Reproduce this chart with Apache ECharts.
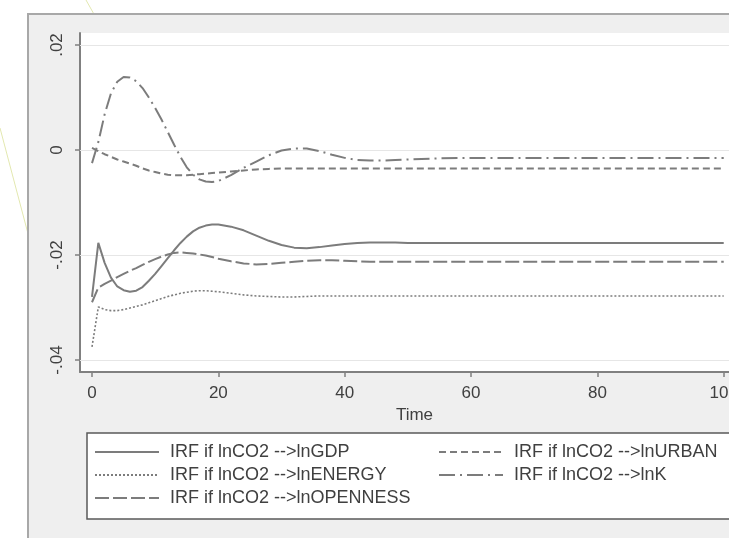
<!DOCTYPE html>
<html>
<head>
<meta charset="utf-8">
<script src="https://cdn.jsdelivr.net/npm/echarts@6/dist/echarts.min.js"></script>
<style>
html,body{margin:0;padding:0;background:#fff;}
#chart{width:729px;height:538px;}
</style>
</head>
<body>
<div id="chart"></div>
<script>
// ---- data ----
const steps = [0,1,2,3,4,5,6,7,8,9,10,11,12,13,14,15,16,17,18,19,20,
  22,24,26,28,30,32,34,36,38,40,42,44,46,48,50,55,60,70,80,90,100];

const irfGDP = [-0.0280,-0.0177,-0.0215,-0.0243,-0.0260,-0.0267,-0.0270,-0.0268,-0.0261,-0.0249,-0.0236,-0.0221,-0.0206,-0.0191,-0.0177,-0.0165,-0.0155,-0.0148,-0.0144,-0.0142,-0.0142,
  -0.0146,-0.0153,-0.0163,-0.0173,-0.0181,-0.0186,-0.0187,-0.0185,-0.0182,-0.0179,-0.0177,-0.0176,-0.0176,-0.0176,-0.0177,
  -0.0177,-0.0177,-0.0177,-0.0177,-0.0177,-0.0177];

const irfENERGY = [-0.0375,-0.0299,-0.0304,-0.0306,-0.0306,-0.0304,-0.0301,-0.0298,-0.0295,-0.0291,-0.0287,-0.0283,-0.0279,-0.0276,-0.0273,-0.0271,-0.0269,-0.0268,-0.0268,-0.0269,-0.0270,
  -0.0273,-0.0276,-0.0278,-0.0279,-0.0280,-0.0280,-0.0279,-0.0278,-0.0278,-0.0278,-0.0278,-0.0278,-0.0278,-0.0278,-0.0278,
  -0.0278,-0.0278,-0.0278,-0.0278,-0.0278,-0.0278];

const irfOPENNESS = [-0.0290,-0.0262,-0.0255,-0.0249,-0.0242,-0.0236,-0.0230,-0.0225,-0.0219,-0.0213,-0.0208,-0.0203,-0.0199,-0.0196,-0.0195,-0.0196,-0.0197,-0.0199,-0.0201,-0.0204,-0.0207,
  -0.0212,-0.0216,-0.0218,-0.0217,-0.0215,-0.0213,-0.0211,-0.0210,-0.0210,-0.0211,-0.0212,-0.0213,-0.0213,-0.0213,-0.0213,
  -0.0213,-0.0213,-0.0213,-0.0213,-0.0213,-0.0213];

const irfURBAN = [0.0004,-0.0002,-0.0008,-0.0013,-0.0018,-0.0022,-0.0026,-0.0030,-0.0035,-0.0039,-0.0042,-0.0045,-0.0047,-0.0048,-0.0048,-0.0048,-0.0047,-0.0046,-0.0045,-0.0044,-0.0043,
  -0.0041,-0.0039,-0.0037,-0.0036,-0.0035,-0.0035,-0.0035,-0.0035,-0.0035,-0.0035,-0.0035,-0.0035,-0.0035,-0.0035,-0.0035,
  -0.0035,-0.0035,-0.0035,-0.0035,-0.0035,-0.0035];

const irfK = [-0.0025,0.0015,0.0068,0.0108,0.0130,0.0139,0.0138,0.0131,0.0118,0.0100,0.0080,0.0058,0.0034,0.0010,-0.0013,-0.0033,-0.0047,-0.0056,-0.0060,-0.0061,-0.0059,
  -0.0048,-0.0034,-0.0022,-0.0010,-0.0001,0.0003,0.0003,-0.0002,-0.0009,-0.0015,-0.0019,-0.0020,-0.0020,-0.0019,-0.0018,
  -0.0016,-0.0015,-0.0015,-0.0015,-0.0015,-0.0015];

const seriesNames = [
  'IRF if lnCO2 -->lnGDP',
  'IRF if lnCO2 -->lnENERGY',
  'IRF if lnCO2 -->lnOPENNESS',
  'IRF if lnCO2 -->lnURBAN',
  'IRF if lnCO2 -->lnK'
];

const xTickValues = [0,20,40,60,80,100];
const yTickValues = [-0.04,-0.02,0,0.02];
const yTickLabels = ['-.04','-.02','0','.02'];
const xAxisTitle = 'Time';

// ---- chart ----
const FONT = '"Liberation Sans", Arial, sans-serif';
const LINE = '#7c7c7c';
const TXT = '#404040';
const pairs = arr => steps.map((t, i) => [t, arr[i]]);

const styles = [
  { type: 'solid', width: 2 },
  { type: [2, 2], width: 1.6 },
  { type: [14, 4], width: 2 },
  { type: [7, 4], width: 2 },
  { type: [16, 5, 2, 5], width: 2 }
];
const datasets = [irfGDP, irfENERGY, irfOPENNESS, irfURBAN, irfK];

const series = datasets.map((arr, i) => ({
  name: seriesNames[i],
  type: 'line',
  data: pairs(arr),
  symbol: 'none',
  smooth: false,
  z: 5,
  lineStyle: { color: LINE, width: styles[i].width, type: styles[i].type },
  itemStyle: { color: LINE }
}));

// gridlines at y ticks
series.push({
  type: 'line',
  data: [],
  silent: true,
  z: 1,
  markLine: {
    silent: true,
    symbol: 'none',
    label: { show: false },
    lineStyle: { color: '#e6e6e6', width: 1, type: 'solid' },
    data: yTickValues.map(v => ({ yAxis: v }))
  }
});

const legendCommon = {
  orient: 'vertical',
  top: 443,
  padding: 0,
  itemWidth: 64, itemHeight: 14, itemGap: 5,
  itemStyle: { opacity: 0 },
  textStyle: { fontSize: 18, lineHeight: 18, color: TXT, fontFamily: FONT, padding: [0, 0, 0, 6] }
};

const chart = echarts.init(document.getElementById('chart'), null, { renderer: 'canvas' });

chart.setOption({
  animation: false,
  backgroundColor: '#ffffff',
  textStyle: { fontFamily: FONT },
  graphic: [
    { type: 'line', z: -20, shape: { x1: 86, y1: 0, x2: 95, y2: 16 }, style: { stroke: '#e3e8b0', lineWidth: 1 } },
    { type: 'line', z: -20, shape: { x1: 0, y1: 128, x2: 31, y2: 245 }, style: { stroke: '#e3e8b0', lineWidth: 1 } },
    { type: 'rect', z: -10, shape: { x: 28, y: 14, width: 720, height: 530 }, style: { fill: '#efefef', stroke: '#a8a8a8', lineWidth: 2 } },
    { type: 'rect', z: -9, shape: { x: 80, y: 33, width: 670, height: 339 }, style: { fill: '#ffffff' } },
    { type: 'rect', z: -9, shape: { x: 87, y: 433, width: 660, height: 86 }, style: { fill: '#ffffff', stroke: '#5a5a5a', lineWidth: 1.5 } }
  ],
  grid: { left: 80, top: 33, width: 669, height: 339, containLabel: false, outerBoundsMode: 'none' },
  legend: [
    Object.assign({}, legendCommon, { data: seriesNames.slice(0, 3), left: 94 }),
    Object.assign({}, legendCommon, { data: seriesNames.slice(3), left: 438 })
  ],
  xAxis: {
    type: 'value',
    min: -1.9, max: 104,
    name: xAxisTitle,
    nameLocation: 'middle',
    nameGap: 28,
    nameTextStyle: { fontSize: 17, color: TXT, fontFamily: FONT },
    axisLine: { show: true, onZero: false, lineStyle: { color: '#808080', width: 2 } },
    axisTick: { show: true, length: 5, customValues: xTickValues, lineStyle: { color: '#808080', width: 1.5 } },
    axisLabel: { customValues: xTickValues, margin: 13, fontSize: 17, color: TXT, fontFamily: FONT, hideOverlap: false, showMaxLabel: true },
    splitLine: { show: false }
  },
  yAxis: {
    type: 'value',
    min: -0.04229, max: 0.02229,
    axisLine: { show: true, onZero: false, lineStyle: { color: '#808080', width: 2 } },
    axisTick: { show: true, length: 5, customValues: yTickValues, lineStyle: { color: '#808080', width: 1.5 } },
    axisLabel: {
      customValues: yTickValues,
      rotate: 90,
      margin: 14,
      fontSize: 17,
      color: TXT,
      fontFamily: FONT,
      formatter: v => {
        const idx = yTickValues.findIndex(t => Math.abs(t - v) < 1e-9);
        return idx >= 0 ? yTickLabels[idx] : '';
      }
    },
    splitLine: { show: false }
  },
  series: series
});
</script>
</body>
</html>
